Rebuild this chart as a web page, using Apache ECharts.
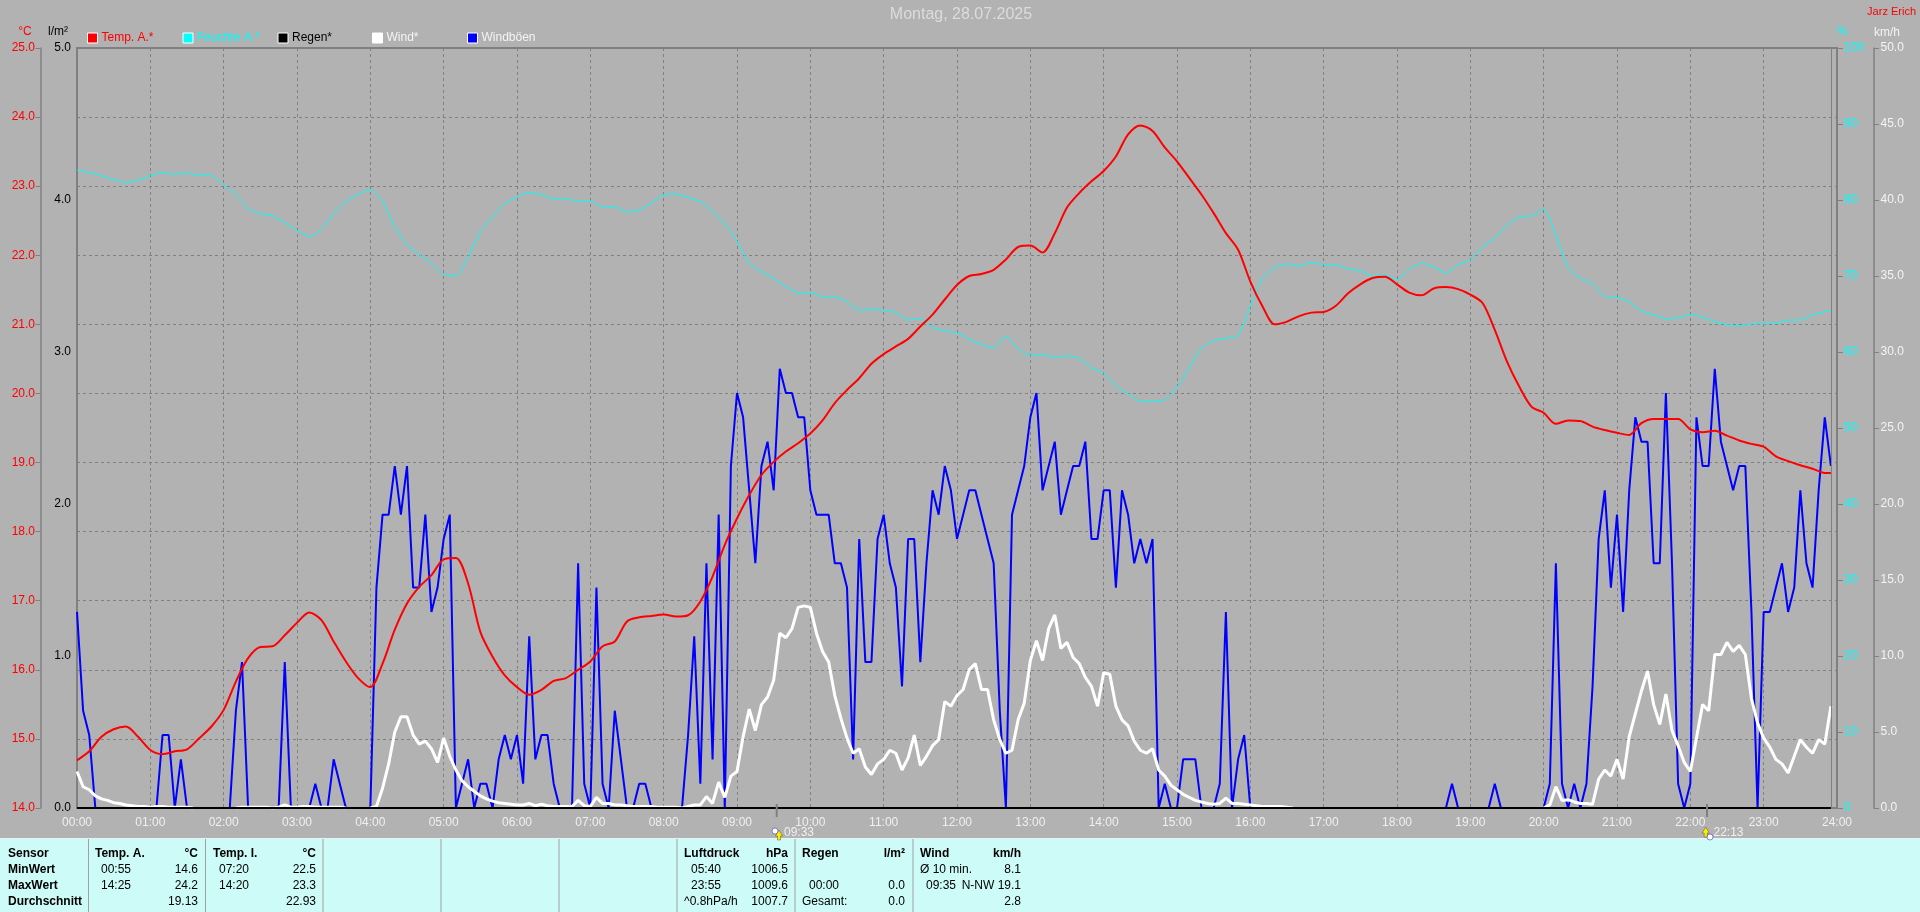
<!DOCTYPE html>
<html><head><meta charset="utf-8">
<style>html,body{margin:0;padding:0;background:#b2b2b2}#c{width:1920px;height:912px}</style>
<script src="https://cdn.jsdelivr.net/npm/echarts@6/dist/echarts.min.js"></script>
</head><body><div id="c"></div>
<script>
// 10-minute readings (last one at 23:55)
const tempA = [14.69,14.82,15.03,15.14,15.18,15.03,14.84,14.78,14.82,14.85,15.01,15.18,
15.42,15.83,16.17,16.33,16.34,16.5,16.68,16.83,16.72,16.41,16.12,15.88,
15.75,16.09,16.58,16.96,17.2,17.37,17.6,17.62,17.25,16.55,16.19,15.92,
15.75,15.64,15.71,15.84,15.88,16.0,16.12,16.34,16.41,16.7,16.76,16.78,
16.8,16.77,16.79,16.99,17.35,17.81,18.19,18.53,18.82,19.01,19.16,19.28,
19.42,19.61,19.86,20.05,20.22,20.43,20.57,20.68,20.79,20.97,21.14,21.36,
21.57,21.7,21.73,21.79,21.94,22.12,22.14,22.04,22.32,22.69,22.9,23.07,
23.22,23.43,23.75,23.88,23.8,23.56,23.36,23.12,22.88,22.61,22.32,22.08,
21.62,21.26,21.0,21.04,21.12,21.17,21.18,21.27,21.45,21.58,21.67,21.69,
21.58,21.46,21.42,21.52,21.54,21.51,21.43,21.31,20.92,20.46,20.1,19.81,
19.72,19.56,19.61,19.6,19.52,19.47,19.43,19.4,19.57,19.63,19.63,19.63,
19.48,19.44,19.46,19.39,19.32,19.27,19.23,19.09,19.02,18.96,18.91,18.85,18.85];
const humidity = [83.9,83.6,83.2,82.7,82.3,82.6,83.2,83.6,83.4,83.5,83.3,83.2,
82,80.7,78.9,78.2,77.9,77,76,75.2,76.1,78.2,79.8,80.7,
81.4,79.8,76.5,74.1,72.8,71.7,70.2,70.0,72.5,75.8,77.8,79.6,
80.4,81,80.7,80.1,80.2,79.8,79.9,79.1,79.1,78.4,78.7,79.6,
80.7,80.8,80.3,79.8,78.5,76.9,74.6,71.7,70.6,69.7,68.6,67.8,
67.8,67.3,67.3,66.6,65.5,65.6,65.5,65.2,64.2,64.4,63.2,62.8,
62.5,61.7,61,60.5,62.1,60.5,59.5,59.7,59.3,59.5,59.2,57.9,
57.2,55.5,54.5,53.5,53.5,53.7,55.4,57.9,60.5,61.5,61.8,62.2,
66,69.7,71.1,71.6,71.3,71.8,71.5,71.5,70.9,70.7,70,70.1,
69.5,70.9,71.7,71.2,70.4,71.5,72.1,73.9,75,76.7,77.8,77.9,
78.8,75.4,71.1,69.7,69,67.3,67.2,66.6,65.4,64.9,64.4,64.5,
64.9,64.6,64,63.6,63.4,63.7,63.7,63.8,64.2,64.2,64.9,65.3,65.5];
// 5-minute readings, 12 per hour
const wind = [2.4,1.4,1.2,0.8,0.6,0.5,0.35,0.3,0.2,0.15,0.1,0.1,
0.05,0.1,0.1,0.05,0.05,0.05,0.05,0,0,0,0,0,
0,0,0,0.05,0.05,0.05,0.05,0.05,0,0.05,0.2,0.05,
0.05,0.1,0.1,0.05,0.05,0.05,0.05,0.05,0,0,0,0,
0,0.1,1.3,2.9,5.0,6.0,6.0,4.8,4.2,4.4,3.9,3.0,
4.6,3.4,2.5,1.8,1.4,1.1,0.8,0.6,0.45,0.35,0.3,0.25,
0.2,0.2,0.3,0.15,0.25,0.15,0.1,0.1,0.1,0.1,0.5,0.15,
0.1,0.7,0.3,0.3,0.2,0.2,0.15,0.1,0.1,0.1,0.1,0.05,
0.05,0.05,0.05,0,0.1,0.2,0.2,0.75,0.3,1.7,0.7,2.1,
2.4,4.7,6.5,5.1,6.8,7.3,8.4,11.5,11.2,11.8,13.2,13.3,
13.2,11.5,10.3,9.6,7.4,5.9,4.6,3.6,3.9,2.7,2.2,2.9,
3.2,3.8,3.6,2.5,3.3,4.8,2.8,3.4,4.1,4.5,7.0,6.7,
7.4,7.8,9.1,9.5,7.8,7.8,5.8,4.5,3.6,3.8,5.8,6.9,
9.7,11,9.7,11.8,12.7,10.5,10.9,9.9,9.5,8.6,8,6.7,
8.9,8.8,6.7,5.8,5.4,4.4,3.8,3.6,3.9,2.5,2.1,1.5,
1.2,0.9,0.7,0.5,0.4,0.3,0.25,0.3,0.65,0.3,0.3,0.25,
0.2,0.15,0.1,0.1,0.1,0.1,0.05,0,0,0,0,0,
0,0,0,0,0,0,0,0,0,0,0,0,
0,0,0,0,0,0,0,0,0,0,0,0,
0,0,0,0,0,0,0,0,0,0,0,0,
0,0.2,1.4,0.5,0.55,0.4,0.3,0.3,0.25,1.9,2.5,2.1,
3.2,1.9,4.7,6.2,7.7,9,6.8,5.5,7.5,5.1,4.1,3.0,
2.4,4.6,6.8,6.4,10.1,10.1,10.9,10.3,10.7,10.1,7.2,5.6,
4.6,4,3.2,2.9,2.3,3.4,4.5,4,3.6,4.5,4.2,6.7];
const gusts = [12.9,6.4,4.8,0,0,0,0,0,0,0,0,0,
0,0,4.8,4.8,0,3.2,0,0,0,0,0,0,
0,0,6.4,9.6,0,0,0,0,0,0,9.6,0,
0,0,0,1.6,0,0,3.2,1.6,0,0,0,0,
0,14.5,19.3,19.3,22.5,19.3,22.5,14.5,14.5,19.3,12.9,14.5,
17.7,19.3,0,1.6,3.2,0,1.6,1.6,0,3.2,4.8,3.2,
4.8,1.6,11.3,3.2,4.8,4.8,1.6,0,0,0,16.1,1.6,
0,14.5,1.6,0,6.4,3.2,0,0,1.6,1.6,0,0,
0,0,0,0,4.8,11.3,1.6,16.1,3.2,19.3,0,22.5,
27.3,25.7,20.9,16.1,22.5,24.1,20.9,28.9,27.3,27.3,25.7,25.7,
20.9,19.3,19.3,19.3,16.1,16.1,14.5,3.2,17.7,9.6,9.6,17.7,
19.3,16.1,14.5,8,17.7,17.7,9.6,16.1,20.9,19.3,22.5,20.9,
17.7,19.3,20.9,20.9,19.3,17.7,16.1,6.4,0,19.3,20.9,22.5,
25.7,27.3,20.9,22.5,24.1,19.3,20.9,22.5,22.5,24.1,17.7,17.7,
20.9,20.9,14.5,20.9,19.3,16.1,17.7,16.1,17.7,0,1.6,0,
0,3.2,3.2,3.2,0,0,0,1.6,12.9,0,3.2,4.8,
0,0,0,0,0,0,0,0,0,0,0,0,
0,0,0,0,0,0,0,0,0,0,0,0,
0,0,0,0,0,0,0,0,0,1.6,0,0,
0,0,0,0,1.6,0,0,0,0,0,0,0,
0,1.6,16.1,1.6,0,1.6,0,1.6,8,17.7,20.9,14.5,
19.3,12.9,20.9,25.7,24.1,24.1,16.1,16.1,27.3,16.1,1.6,0,
1.6,25.7,22.5,22.5,28.9,24.1,22.5,20.9,22.5,22.5,12.9,0,
12.9,12.9,14.5,16.1,12.9,14.5,20.9,16.1,14.5,20.9,25.7,22.5];
const rain = [0,0];
const rainMinutes = [0,1435];
const endMinute = 1435;
const seriesNames = ['Temp. A.*','Feuchte A.*','Regen*','Wind*','Windböen'];

const pairs10 = a => a.map((v,i)=>[Math.min(i*10,endMinute),v]);
const pairs5  = a => a.map((v,i)=>[i*5,v]);
// a calm wind leaves no white trace in the original: only keep zeros that bound a gust of wind
const hideCalm = a => a.map((v,i)=>[i*5,(v===0 && !a[i-1] && !a[i+1])?null:v]);

const F='"Liberation Sans",Arial,sans-serif';
const GRAY='#808080';
const L=77,T=48,R=1837,B=808;
const hhmm=m=>String(Math.floor(m/60)).padStart(2,'0')+':00';

function txt(t,x,y,o){o=o||{};return {type:'text',silent:true,z:20,x:x,y:y,style:{text:t,fill:o.c||'#000',font:(o.b?'bold ':'')+(o.s||12)+'px '+F,textAlign:o.a||'left',textVerticalAlign:'middle'}};}

const rows=[854,870,886,902];
const panel=[
 ['Sensor',8,0,'l',1],['MinWert',8,1,'l',1],['MaxWert',8,2,'l',1],['Durchschnitt',8,3,'l',1],
 ['Temp. A.',95,0,'l',1],['°C',198,0,'r',1],['00:55',101,1,'l'],['14.6',198,1,'r'],['14:25',101,2,'l'],['24.2',198,2,'r'],['19.13',198,3,'r'],
 ['Temp. I.',213,0,'l',1],['°C',316,0,'r',1],['07:20',219,1,'l'],['22.5',316,1,'r'],['14:20',219,2,'l'],['23.3',316,2,'r'],['22.93',316,3,'r'],
 ['Luftdruck',684,0,'l',1],['hPa',788,0,'r',1],['05:40',691,1,'l'],['1006.5',788,1,'r'],['23:55',691,2,'l'],['1009.6',788,2,'r'],['^0.8hPa/h',684,3,'l'],['1007.7',788,3,'r'],
 ['Regen',802,0,'l',1],['l/m²',905,0,'r',1],['00:00',809,2,'l'],['0.0',905,2,'r'],['Gesamt:',802,3,'l'],['0.0',905,3,'r'],
 ['Wind',920,0,'l',1],['km/h',1021,0,'r',1],['Ø 10 min.',920,1,'l'],['8.1',1021,1,'r'],['09:35',926,2,'l'],['N-NW 19.1',1021,2,'r'],['2.8',1021,3,'r']
];
const seps=[88.5,205.5,323,441,559,677,795,913];
const g=[];
g.push({type:'rect',silent:true,z:10,shape:{x:0,y:839,width:1920,height:73},style:{fill:'#ccfbf8'}});
g.push({type:'line',silent:true,z:11,shape:{x1:0,y1:838.5,x2:1920,y2:838.5},style:{stroke:'#e8f4f4',lineWidth:1}});
seps.forEach(x=>g.push({type:'line',silent:true,z:11,shape:{x1:x,y1:839,x2:x,y2:912},style:{stroke:'#a0a0a0',lineWidth:1}}));
panel.forEach(p=>g.push(txt(p[0],p[1],rows[p[2]],{a:p[3]==='r'?'right':'left',b:p[4]})));
g.push(txt('Montag, 28.07.2025',961,15,{a:'center',c:'#dcdcdc',s:16}));
g.push(txt('Jarz Erich',1916,12,{a:'right',c:'#ff0000',s:11}));
g.push(txt('°C',25,32,{a:'center',c:'#ff0000'}));
g.push(txt('l/m²',58,32,{a:'center',c:'#000'}));
g.push(txt('%',1842,32,{a:'center',c:'#00ffff'}));
g.push(txt('km/h',1887,33,{a:'center',c:'#f4f4f4'}));
// event markers below the axis
[[776.7,'09:33',784,775,831,779,835],[1707,'22:13',1713.5,1710,837,1705.7,832]].forEach(m=>{
 g.push({type:'line',silent:true,z:12,shape:{x1:m[0],y1:804,x2:m[0],y2:817},style:{stroke:GRAY,lineWidth:2}});
 g.push(txt(m[1],m[2],833,{c:'#f0f0f0'}));
 g.push({type:'circle',silent:true,z:12,shape:{cx:m[3],cy:m[4],r:3},style:{fill:'#fff',stroke:'#3a3ad0',lineWidth:0.6}});
 g.push({type:'polygon',silent:true,z:13,shape:{points:[[m[5],m[6]-5],[m[5]+3.5,m[6]+1],[m[5]+1.5,m[6]+1],[m[5]+1.5,m[6]+5],[m[5]-1.5,m[6]+5],[m[5]-1.5,m[6]+1],[m[5]-3.5,m[6]+1]]},style:{fill:'#ffee00',stroke:'#333',lineWidth:0.4}});
});

const legCols=['#ff0000','#00ffff','#000000','#f4f4f4','#f4f4f4'];
const legX=[87,182.5,277.5,372,467];
const legend=seriesNames.map((n,i)=>({data:[n],left:legX[i],top:32,padding:0,icon:'rect',itemWidth:10,itemHeight:10,itemGap:0,selectedMode:false,
  itemStyle:{borderColor:'#ffffff',borderWidth:1},textStyle:{color:legCols[i],fontFamily:F,fontSize:12,padding:[0,0,0,-1]}}));

const lab=(c)=>({color:c,fontFamily:F,fontSize:12});
const chart=echarts.init(document.getElementById('c'),null,{renderer:'canvas'});
chart.setOption({
 animation:false,backgroundColor:'#b2b2b2',
 legend:legend,
 grid:{left:L,top:T,width:R-L,height:B-T,show:true,borderColor:GRAY,borderWidth:2,backgroundColor:'transparent',containLabel:false},
 tooltip:{show:false},
 xAxis:{type:'value',min:0,max:1440,interval:60,axisLine:{show:false},axisTick:{show:false},
   axisLabel:{color:'#f0f0f0',fontFamily:F,fontSize:12,margin:9,showMinLabel:true,showMaxLabel:true,formatter:hhmm},
   splitLine:{show:true,lineStyle:{color:GRAY,type:[3,3],width:1}}},
 yAxis:[
  {type:'value',position:'left',offset:L-40.5,min:14,max:25,interval:1,
   axisLine:{show:true,onZero:false,lineStyle:{color:GRAY,width:1.5}},axisTick:{show:true,length:5,lineStyle:{color:GRAY}},
   axisLabel:{...lab('#ff0000'),margin:5.5,formatter:v=>v.toFixed(1)},splitLine:{show:true,lineStyle:{color:GRAY,type:[3,3],width:1}}},
  {type:'value',position:'left',offset:0,min:0,max:5,interval:1,axisLine:{show:false},axisTick:{show:false},
   axisLabel:{...lab('#000'),margin:6,formatter:v=>v.toFixed(1)},splitLine:{show:false}},
  {type:'value',position:'right',offset:0,min:0,max:100,interval:10,axisLine:{show:false},axisTick:{show:true,length:6,lineStyle:{color:GRAY}},
   axisLabel:{...lab('#00ffff'),margin:7},splitLine:{show:false}},
  {type:'value',position:'right',offset:37,min:0,max:50,interval:5,
   axisLine:{show:true,onZero:false,lineStyle:{color:GRAY,width:1.5}},axisTick:{show:true,length:5,lineStyle:{color:GRAY}},
   axisLabel:{...lab('#f4f4f4'),margin:6.5,formatter:v=>v.toFixed(1)},splitLine:{show:false}}
 ],
 series:[
  {name:'Windböen',type:'line',yAxisIndex:3,data:pairs5(gusts),showSymbol:false,z:3,itemStyle:{color:'#0000ff'},lineStyle:{color:'#0000ff',width:2}},
  {name:'Wind*',type:'line',yAxisIndex:3,data:hideCalm(wind),showSymbol:false,z:4,connectNulls:false,itemStyle:{color:'#ffffff'},lineStyle:{color:'#ffffff',width:3}},
  {name:'Regen*',type:'line',yAxisIndex:1,data:rainMinutes.map((m,i)=>[m,rain[i]]),showSymbol:false,z:5,itemStyle:{color:'#000000'},lineStyle:{color:'#000000',width:2},
   markLine:{silent:true,symbol:'none',animation:false,label:{show:false},lineStyle:{color:GRAY,type:'solid',width:1},data:[{xAxis:endMinute}]}},
  {name:'Feuchte A.*',type:'line',yAxisIndex:2,data:pairs10(humidity),showSymbol:false,smooth:0.2,z:6,itemStyle:{color:'#00ffff'},lineStyle:{color:'#00ffff',width:1}},
  {name:'Temp. A.*',type:'line',yAxisIndex:0,data:pairs10(tempA),showSymbol:false,smooth:0.3,z:7,itemStyle:{color:'#ff0000'},lineStyle:{color:'#ff0000',width:2}}
 ],
 graphic:g
});
</script></body></html>
